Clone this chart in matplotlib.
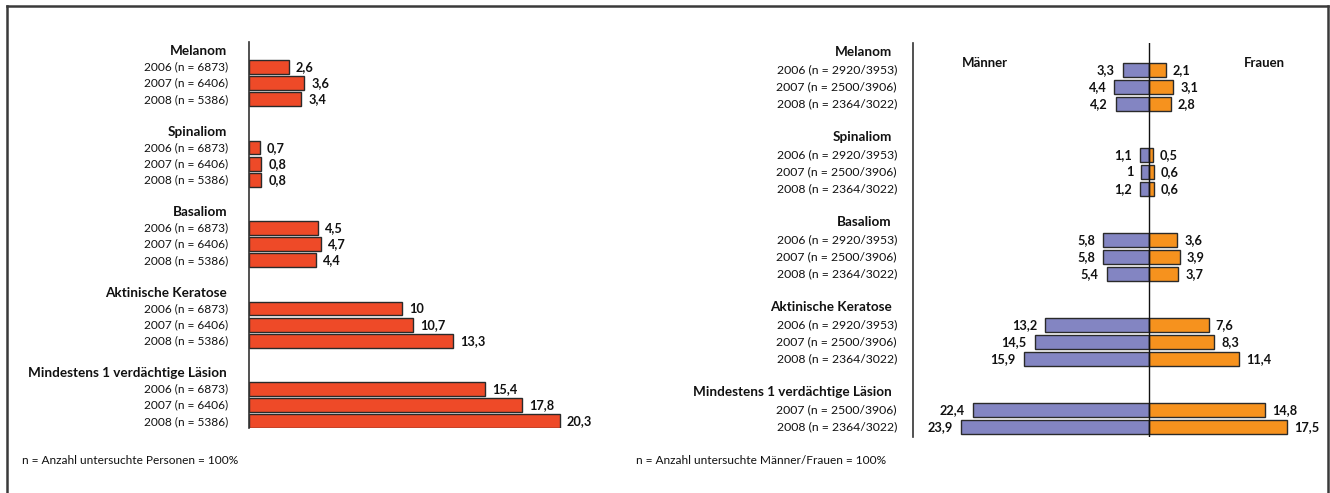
import matplotlib
matplotlib.use("Agg")
import matplotlib.pyplot as plt
from matplotlib.lines import Line2D

plt.rcParams['font.family'] = ['Lato', 'DejaVu Sans']

# ---------------- data ----------------
categories = ["Melanom", "Spinaliom", "Basaliom", "Aktinische Keratose",
              "Mindestens 1 verdächtige Läsion"]

left_labels = ["2006 (n = 6873)", "2007 (n = 6406)", "2008 (n = 5386)"]
left_values = [
    [2.6, 3.6, 3.4],
    [0.7, 0.8, 0.8],
    [4.5, 4.7, 4.4],
    [10, 10.7, 13.3],
    [15.4, 17.8, 20.3],
]

right_labels = [
    ["2006 (n = 2920/3953)", "2007 (n = 2500/3906)", "2008 (n = 2364/3022)"],
    ["2006 (n = 2920/3953)", "2007 (n = 2500/3906)", "2008 (n = 2364/3022)"],
    ["2006 (n = 2920/3953)", "2007 (n = 2500/3906)", "2008 (n = 2364/3022)"],
    ["2006 (n = 2920/3953)", "2007 (n = 2500/3906)", "2008 (n = 2364/3022)"],
    ["2007 (n = 2500/3906)", "2008 (n = 2364/3022)"],
]
maenner = [
    [3.3, 4.4, 4.2],
    [1.1, 1.0, 1.2],
    [5.8, 5.8, 5.4],
    [13.2, 14.5, 15.9],
    [22.4, 23.9],
]
frauen = [
    [2.1, 3.1, 2.8],
    [0.5, 0.6, 0.6],
    [3.6, 3.9, 3.7],
    [7.6, 8.3, 11.4],
    [14.8, 17.5],
]

footnote_left = "n = Anzahl untersuchte Personen = 100%"
footnote_right = "n = Anzahl untersuchte Männer/Frauen = 100%"

def fmt(v):
    s = ("%g" % v).replace(".", ",")
    return s

# ---------------- figure ----------------
W, H = 1330, 493
fig = plt.figure(figsize=(W / 100, H / 100), dpi=100)
fig.patch.set_facecolor("white")

def px_axes(x0, y0, x1, y1):
    return fig.add_axes([x0 / W, 1 - y1 / H, (x1 - x0) / W, (y1 - y0) / H])

RED = "#EE4A28"
BLUE = "#8385C2"
ORANGE = "#F6921E"
EDGE = "#2a2a2a"
TXT = "#111111"
FS = 8.6
FSH = 9.7
FSV = 9.2

# frame
fig.add_artist(Line2D([6.5 / W, 6.5 / W], [0, 1 - 5.5 / H], transform=fig.transFigure,
                      color="#3a3a3a", lw=1.8))
fig.add_artist(Line2D([6.5 / W, 1327.5 / W], [1 - 5.5 / H, 1 - 5.5 / H], transform=fig.transFigure,
                      color="#3a3a3a", lw=1.8))
fig.add_artist(Line2D([1327.5 / W, 1327.5 / W], [0, 1 - 5.5 / H], transform=fig.transFigure,
                      color="#3a3a3a", lw=1.8))

# ---------------- left chart ----------------
pitchL = 16.1
y0L = 51
top, bot = 42, 428
axL = px_axes(249, top, 249 + 25 * 15.32, bot)
axL.set_xlim(0, 25)
axL.set_ylim((bot - y0L) / pitchL, (top - y0L) / pitchL)
for s in ["top", "right", "bottom"]:
    axL.spines[s].set_visible(False)
axL.spines["left"].set_color("#333333")
axL.spines["left"].set_linewidth(1.2)
axL.set_xticks([])
axL.set_yticks([])
axL.patch.set_alpha(0)

for g, cat in enumerate(categories):
    hrow = g * 5
    axL.annotate(cat, xy=(0, hrow), xycoords=("axes fraction", "data"),
                 xytext=(-22, 0), textcoords="offset pixels",
                 ha="right", va="center", fontsize=FSH, fontweight="bold", color=TXT,
                 annotation_clip=False)
    for i, (lab, v) in enumerate(zip(left_labels, left_values[g])):
        r = hrow + 1 + i
        axL.barh(r, v, height=0.85, color=RED, edgecolor=EDGE, linewidth=1.0)
        axL.annotate(lab, xy=(0, r), xycoords=("axes fraction", "data"),
                     xytext=(-21, 0), textcoords="offset pixels",
                     ha="right", va="center", fontsize=FS, color=TXT, annotation_clip=False)
        axL.annotate(fmt(v), xy=(v, r), xytext=(7, 0), textcoords="offset pixels",
                     ha="left", va="center", fontsize=FSV, fontweight="bold", color=TXT,
                     annotation_clip=False)

fig.text(22 / W, 1 - 460 / H, footnote_left, ha="left", va="center", fontsize=FS, color=TXT)

# ---------------- right chart ----------------
pitchR = 17.0
y0R = 53
topR, botR = 43, 437
scale = 7.87
center = 1149
xmin = -(center - 913) / scale
xmax = (1322 - center) / scale
axR = px_axes(913, topR, 1322, botR)
axR.set_xlim(xmin, xmax)
axR.set_ylim((botR - y0R) / pitchR, (topR - y0R) / pitchR)
for s in ["top", "right", "bottom"]:
    axR.spines[s].set_visible(False)
axR.spines["left"].set_color("#333333")
axR.spines["left"].set_linewidth(1.2)
axR.set_xticks([])
axR.set_yticks([])
axR.patch.set_alpha(0)
axR.axvline(0, color="#111111", lw=1.0, zorder=3)

for g, cat in enumerate(categories):
    hrow = g * 5 - 0.05
    axR.annotate(cat, xy=(0, hrow), xycoords=("axes fraction", "data"),
                 xytext=(-21, 0), textcoords="offset pixels",
                 ha="right", va="center", fontsize=FSH, fontweight="bold", color=TXT,
                 annotation_clip=False)
    for i, lab in enumerate(right_labels[g]):
        r = g * 5 + 1 + i
        m = maenner[g][i]
        f = frauen[g][i]
        axR.barh(r, -m, height=0.85, color=BLUE, edgecolor=EDGE, linewidth=1.0)
        axR.barh(r, f, height=0.85, color=ORANGE, edgecolor=EDGE, linewidth=1.0)
        axR.annotate(lab, xy=(0, r), xycoords=("axes fraction", "data"),
                     xytext=(-16, 0), textcoords="offset pixels",
                     ha="right", va="center", fontsize=FS + 0.2, color=TXT, annotation_clip=False)
        axR.annotate(fmt(m), xy=(-m, r), xytext=(-8, 0), textcoords="offset pixels",
                     ha="right", va="center", fontsize=FSV, fontweight="bold", color=TXT,
                     annotation_clip=False)
        axR.annotate(fmt(f), xy=(f, r), xytext=(7, 0), textcoords="offset pixels",
                     ha="left", va="center", fontsize=FSV, fontweight="bold", color=TXT,
                     annotation_clip=False)

axR.text((962 - center) / scale, (63 - y0R) / pitchR, "Männer", ha="left", va="center",
         fontsize=FSH - 0.2, fontweight="bold", color=TXT)
axR.text((1285 - center) / scale, (63 - y0R) / pitchR, "Frauen", ha="right", va="center",
         fontsize=FSH - 0.2, fontweight="bold", color=TXT)

fig.text(636 / W, 1 - 460 / H, footnote_right, ha="left", va="center", fontsize=FS, color=TXT)

fig.savefig("out.png", dpi=100, facecolor="white")
